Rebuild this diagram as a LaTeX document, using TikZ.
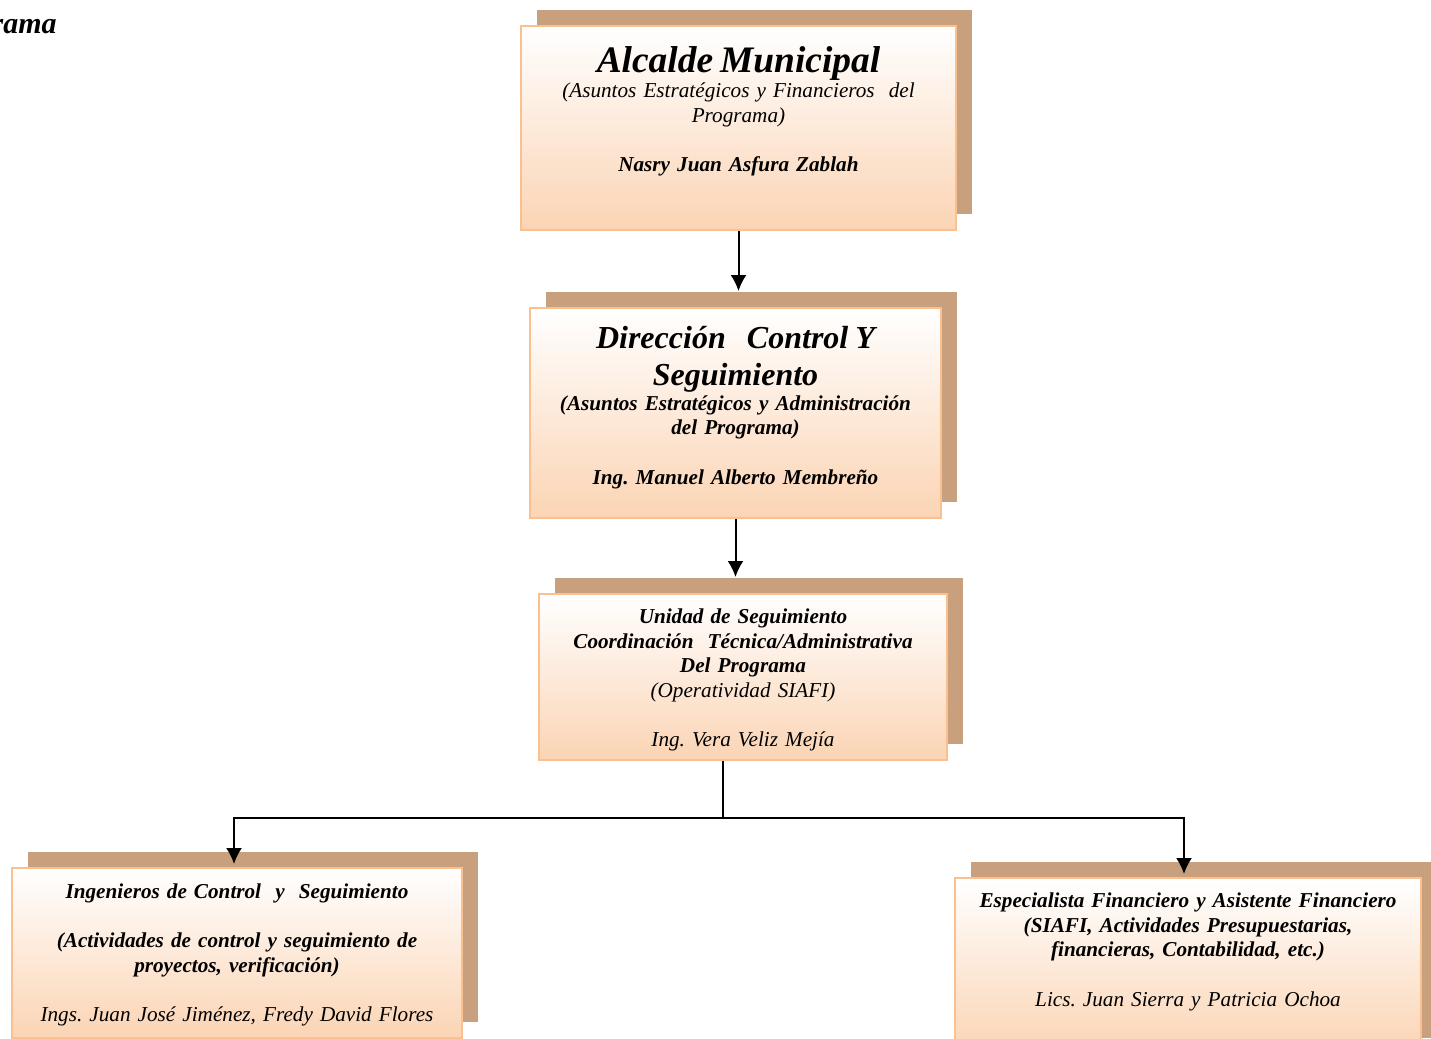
\documentclass[tikz,border=0pt]{standalone}
\usepackage{fontspec}
\setmainfont{Liberation Serif}
\frenchspacing
\usetikzlibrary{positioning,shadows,arrows.meta}
\definecolor{peach}{HTML}{FBD4B4}
\definecolor{boxline}{HTML}{FAC08F}
\definecolor{shadowtan}{HTML}{C9A07E}
\tikzset{
  >={Latex[length=8pt,width=8pt]},
}
\tikzstyle{orgbox}=[draw=boxline,line width=1pt,top color=white,bottom color=peach,
  general shadow={fill=shadowtan,shadow xshift=8pt,shadow yshift=8pt},
  anchor=north west,inner sep=0pt]
\tikzstyle{boxtext}=[anchor=north,align=center,inner sep=0pt,
  font={\itshape\fontsize{10.6}{12.3}\selectfont}]
\tikzstyle{link}=[line width=1pt]

\begin{document}
\begin{tikzpicture}[x=0.5pt,y=-0.5pt]
  \useasboundingbox (0,0) rectangle (1431,1039);
  \node[anchor=base east,font={\bfseries\itshape\fontsize{15}{18}\selectfont},inner sep=0pt] (titulo) at (57,33) {rama};

  % boxes
  \node[orgbox,minimum width=217.5pt,minimum height=102pt] (alcalde) at (520,25) {};
  \node[orgbox,minimum width=205.5pt,minimum height=105pt] (direccion) at (529,307) {};
  \node[orgbox,minimum width=204pt,minimum height=83pt] (unidad) at (538,593) {};
  \node[orgbox,minimum width=225pt,minimum height=85pt] (ingenieros) at (11,867) {};
  \node[orgbox,minimum width=233pt,minimum height=88pt] (especialista) at (954,877) {};

  % texts
  \node[boxtext,text width=210pt] at ([yshift=-10.75pt]alcalde.north)
    {{\fontsize{18.7}{22}\selectfont\bfseries Alcalde Municipal\par}
     (Asuntos Estratégicos y Financieros\ \ del\\ Programa)\\[12.3pt]
     \bfseries Nasry Juan Asfura Zablah};
  \node[boxtext,text width=200pt] at ([yshift=-9.5pt]direccion.north)
    {\bfseries{\fontsize{16}{18.5}\selectfont Dirección\ \ \ Control Y\\ Seguimiento\par}
     (Asuntos Estratégicos y Administración\\ del Programa)\\[12.3pt]
     Ing. Manuel Alberto Membreño};
  \node[boxtext,text width=200pt] at ([yshift=-7.75pt]unidad.north)
    {\bfseries Unidad de Seguimiento\\ Coordinación\ \ Técnica/Administrativa\\ Del Programa\\
     \mdseries (Operatividad SIAFI)\\[12.3pt] Ing. Vera Veliz Mejía};
  \node[boxtext,text width=220pt] at ([yshift=-8.25pt]ingenieros.north)
    {\bfseries Ingenieros de Control\ \ y\ \ Seguimiento\\[12.3pt]
     (Actividades de control y seguimiento de\\ proyectos, verificación)\\[12.3pt]
     \mdseries Ings. Juan José Jiménez, Fredy David Flores};
  \node[boxtext,text width=228pt] at ([yshift=-7.75pt]especialista.north)
    {\bfseries Especialista Financiero y Asistente Financiero\\
     (SIAFI, Actividades Presupuestarias,\\ financieras, Contabilidad, etc.)\\[12.3pt]
     \mdseries Lics. Juan Sierra y Patricia Ochoa};

  % connectors
  \coordinate (split) at (723,818);
  \draw[link,->] (alcalde.south) -- ([yshift=8pt]alcalde.south |- direccion.north);
  \draw[link,->] (direccion.south) -- ([yshift=8pt]direccion.south |- unidad.north);
  \draw[link] (unidad.south -| split) -- (split);
  \draw[link,->] (split) -| ([xshift=-1.5pt,yshift=1.5pt]ingenieros.north);
  \draw[link,->] (split) -| ([xshift=-2pt,yshift=1.5pt]especialista.north);
\end{tikzpicture}
\end{document}
